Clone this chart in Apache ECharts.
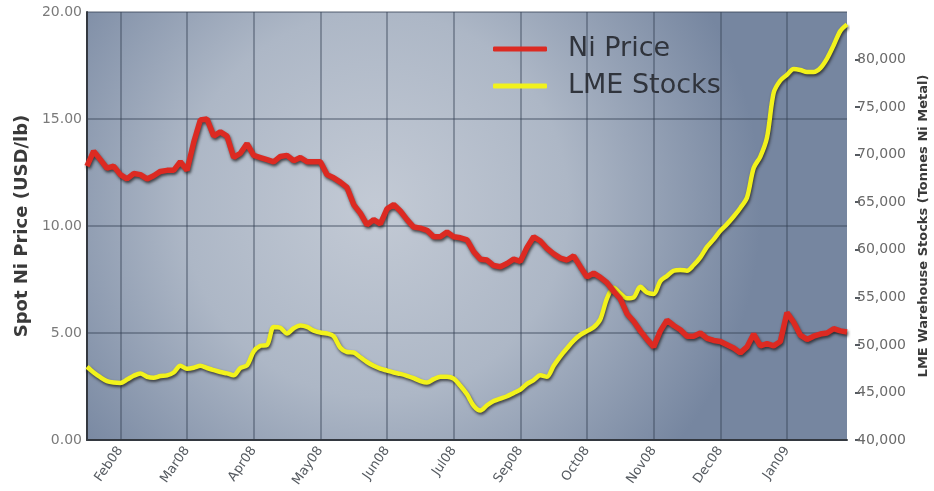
<!DOCTYPE html>
<html>
<head>
<meta charset="utf-8">
<script src="https://cdn.jsdelivr.net/npm/echarts@6/dist/echarts.min.js"></script>
<style>
html,body{margin:0;padding:0;background:#ffffff;}
#chart{width:934px;height:491px;}
</style>
</head>
<body>
<div id="chart"></div>
<script>
// Month tick labels as printed on the original chart (note: no Aug08)
const tickLabels = ['Feb08','Mar08','Apr08','May08','Jun08','Jul08','Sep08','Oct08','Nov08','Dec08','Jan09'];

// Spot Ni price, USD/lb (sampled roughly every 3 days)
const niPrice = [
12.8,13.5,13.1,12.7,12.8,12.4,12.2,12.45,12.4,12.2,
12.35,12.55,12.6,12.6,13.0,12.6,13.9,14.95,15.0,14.2,
14.4,14.2,13.2,13.4,13.85,13.3,13.2,13.1,13.0,13.25,
13.3,13.05,13.2,13.0,13.0,13.0,12.4,12.25,12.05,11.8,
11.0,10.6,10.05,10.3,10.1,10.8,11.0,10.7,10.3,9.95,
9.9,9.8,9.5,9.5,9.72,9.5,9.45,9.35,8.8,8.45,
8.41,8.15,8.1,8.25,8.45,8.35,9.0,9.5,9.3,8.95,
8.7,8.5,8.41,8.6,8.1,7.62,7.8,7.6,7.35,6.95,
6.6,5.9,5.55,5.1,4.7,4.35,5.1,5.6,5.35,5.15,
4.85,4.85,5.0,4.75,4.65,4.6,4.45,4.3,4.07,4.35,
4.95,4.4,4.5,4.4,4.6,5.95,5.5,4.9,4.7,4.85,
4.95,5.0,5.2,5.1,5.05
];

// LME warehouse stocks, tonnes Ni metal
const lmeStocks = [
47700,47100,46600,46200,46050,46000,46350,46750,47000,46650,
46550,46730,46800,47100,47800,47500,47600,47800,47570,47350,
47150,47000,46800,47570,47850,49300,49900,49990,51880,51800,
51200,51750,52050,51900,51500,51300,51200,50900,49700,49250,
49200,48700,48200,47800,47500,47300,47100,46950,46750,46500,
46200,46050,46400,46650,46650,46450,45700,44800,43600,43100,
43650,44100,44350,44600,44950,45300,45900,46300,46800,46650,
47800,48800,49650,50450,51050,51450,51850,52700,54900,56000,
55400,54900,55000,56100,55500,55350,56700,57250,57800,57880,
57800,58400,59200,60300,61100,62000,62700,63500,64400,65500,
68600,69800,71800,76500,77800,78400,79000,78900,78700,78700,
79100,80100,81500,83000,83700
];

const sampleIndex = niPrice.map((_, i) => String(i));
const stockTicks = [40000,45000,50000,55000,60000,65000,70000,75000,80000];

const FONT = '"DejaVu Sans", Verdana, sans-serif';
const isMonthTick = (i) => i >= 5 && (i - 5) % 10 === 0;

const chart = echarts.init(document.getElementById('chart'), null, {renderer: 'canvas'});
chart.setOption({
  animation: false,
  backgroundColor: '#ffffff',
  textStyle: {fontFamily: FONT},
  grid: {
    left: 87, right: 87, top: 12, bottom: 51,
    outerBoundsMode: 'none',
    containLabel: false,
    show: true,
    borderWidth: 0,
    backgroundColor: {
      type: 'radial', x: 0.38, y: 0.45, r: 0.9,
      colorStops: [
        {offset: 0, color: '#c3cad5'},
        {offset: 0.5, color: '#adb7c6'},
        {offset: 1, color: '#7686a0'}
      ]
    }
  },
  legend: {
    orient: 'vertical',
    left: 493, top: 34, padding: 0,
    itemWidth: 54, itemHeight: 5, itemGap: 7,
    icon: 'roundRect',
    textStyle: {fontSize: 27, color: '#30343c', fontFamily: FONT, lineHeight: 30, padding: [0,0,0,16]},
    data: ['Ni Price', 'LME Stocks']
  },
  xAxis: {
    type: 'category',
    data: sampleIndex,
    boundaryGap: false,
    axisLine: {show: true, lineStyle: {color: '#333840', width: 2}},
    axisTick: {show: false},
    axisLabel: {
      interval: (i) => isMonthTick(i),
      rotate: 55,
      margin: 8,
      color: '#555a60',
      fontSize: 13,
      fontFamily: FONT,
      formatter: (v, i) => isMonthTick(i) ? tickLabels[(i - 5) / 10] : ''
    },
    splitLine: {
      show: true,
      interval: (i) => isMonthTick(i),
      lineStyle: {color: 'rgba(55,65,85,0.55)', width: 1.5}
    }
  },
  yAxis: [
    {
      type: 'value', min: 0, max: 20, interval: 5,
      name: 'Spot Ni Price (USD/lb)',
      nameLocation: 'middle', nameGap: 47,
      nameTextStyle: {fontSize: 18, fontWeight: 'bold', color: '#3a3a3a', fontFamily: FONT},
      axisLine: {show: true, lineStyle: {color: '#333840', width: 2}},
      axisTick: {show: false},
      axisLabel: {margin: 5, color: '#7a7a7a', fontSize: 14, fontFamily: FONT, formatter: (v) => v.toFixed(2)},
      splitLine: {show: true, lineStyle: {color: 'rgba(55,65,85,0.55)', width: 1.5}}
    },
    {
      type: 'value', min: 40000, max: 85000, interval: 5000,
      position: 'right', offset: 8,
      name: 'LME Warehouse Stocks (Tonnes Ni Metal)',
      nameLocation: 'middle', nameGap: 62,
      nameTextStyle: {fontSize: 13, fontWeight: 'bold', color: '#3a3a3a', fontFamily: FONT},
      axisLine: {show: false},
      axisTick: {show: true, length: 5, customValues: stockTicks, lineStyle: {color: '#555a60', width: 2}},
      axisLabel: {
        margin: 2, color: '#6a6a6a', fontSize: 14, fontFamily: FONT,
        customValues: stockTicks,
        formatter: (v) => v > 80000 ? '' : v.toLocaleString('en-US')
      },
      splitLine: {show: false}
    }
  ],
  series: [
    {
      name: 'LME Stocks', type: 'line', yAxisIndex: 1,
      data: lmeStocks, showSymbol: false, symbol: 'none', smooth: 0.3,
      color: '#f2f21c',
      lineStyle: {width: 4.5, color: '#f2f21c', shadowColor: 'rgba(30,30,30,0.75)', shadowBlur: 3, shadowOffsetX: 1, shadowOffsetY: 2},
      z: 3
    },
    {
      name: 'Ni Price', type: 'line', yAxisIndex: 0,
      data: niPrice, showSymbol: false, symbol: 'none',
      color: '#dc2a22',
      lineStyle: {width: 5.5, color: '#dc2a22', shadowColor: 'rgba(30,30,30,0.75)', shadowBlur: 3, shadowOffsetX: 1, shadowOffsetY: 2},
      z: 4
    }
  ]
});
</script>
</body>
</html>
